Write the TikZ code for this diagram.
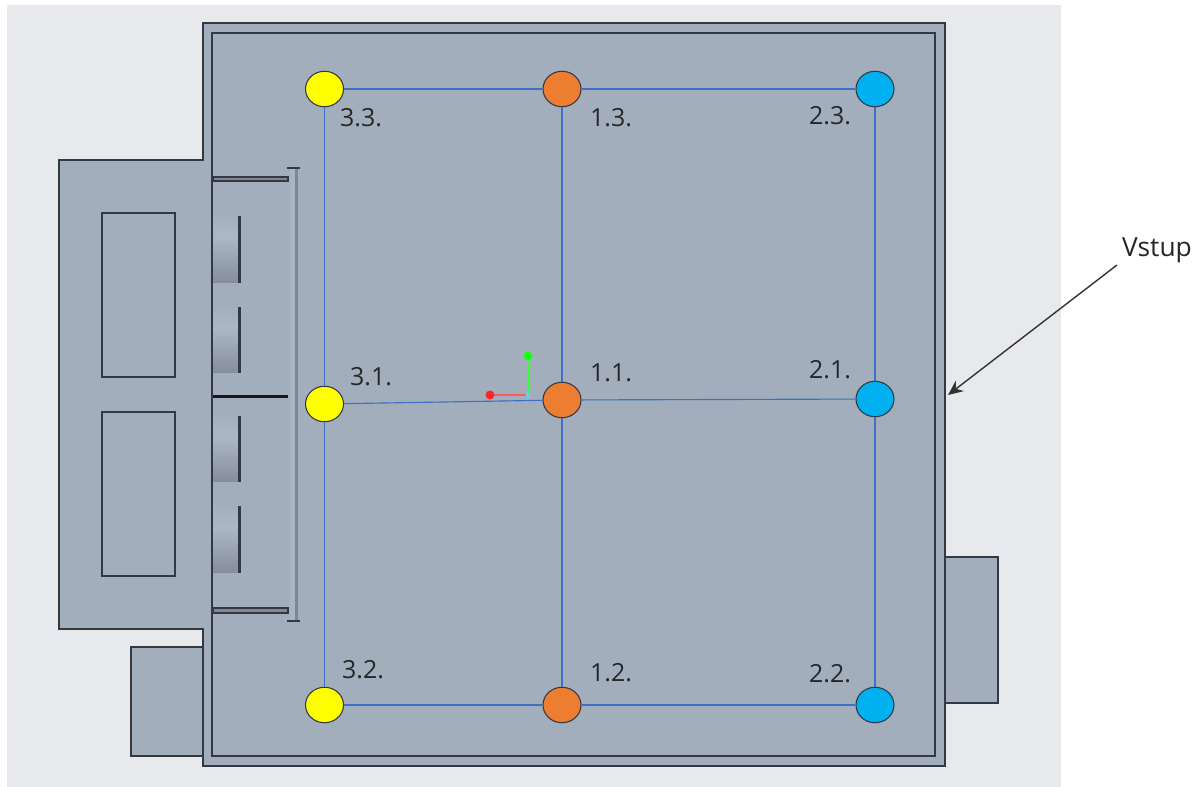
\documentclass[tikz,border=0pt]{standalone}
\usepackage{fontspec}
\setmainfont{Open Sans}
\usetikzlibrary{shapes.geometric,arrows.meta}
\definecolor{bgc}{HTML}{E8E9ED}
\definecolor{partc}{HTML}{A2AEBC}
\definecolor{edgec}{HTML}{333842}
\definecolor{linkc}{HTML}{3F70C8}
\definecolor{yel}{HTML}{FFFF00}
\definecolor{ora}{HTML}{ED7D31}
\definecolor{blu}{HTML}{00B0F0}
\definecolor{ribc}{HTML}{7E8894}
\definecolor{ribl}{HTML}{A9B5C3}
\definecolor{cyla}{HTML}{5C6570}
\definecolor{cylb}{HTML}{7F8996}
\definecolor{cylc}{HTML}{ADB8C6}
\definecolor{cyld}{HTML}{9CA7B4}
\pgfdeclareverticalshading{cyl}{100bp}{color(0bp)=(cyla); color(20bp)=(cylb); color(60bp)=(cylc); color(90bp)=(cyld); color(100bp)=(cyld)}
\tikzset{
 x=0.02cm,y=-0.02cm,
 part/.style={fill=partc,draw=edgec,line width=1pt,line join=miter},
 win/.style={draw=edgec,line width=0.9pt},
 pin/.style={ellipse,minimum width=0.76cm,minimum height=0.71cm,inner sep=0pt,draw=edgec,line width=0.6pt},
 ypin/.style={pin,fill=yel},
 opin/.style={pin,fill=ora},
 bpin/.style={pin,fill=blu},
 link/.style={draw=linkc,line width=0.65pt},
 lab/.style={font=\fontsize{14.2}{16}\selectfont,text=black!85,inner sep=0pt},
 biglab/.style={font=\fontsize{15}{17}\selectfont,text=black!85,inner sep=0pt},
}
\begin{document}
\begin{tikzpicture}
\useasboundingbox (0,0) rectangle (1200,787);
\fill[white] (0,0) rectangle (1200,787);
\fill[bgc] (7,5) rectangle (1061,787);
% side parts
\draw[part] (945,557) rectangle (998,703);
\draw[part] (203,647) -- (131,647) -- (131,756) -- (203,756);
% body
\draw[part] (203,23) -- (945,23) -- (945,766) -- (203,766) -- (203,629) -- (59,629) -- (59,160) -- (203,160) -- cycle;
\draw[draw=edgec,line width=1.1pt] (212,33) rectangle (935,756);
% windows
\draw[win] (102,213) rectangle (175,377);
\draw[win] (102,412) rectangle (175,576);
% cylinders
\foreach \ya/\yb in {217/282,308/372,417/481,507/572}{
  \shade[shading=cyl] (213,\ya) rectangle (239,\yb);
  \draw[edgec,line width=1.2pt] (239.5,\ya-1) -- (239.5,\yb+1);
}
% bars
\draw[edgec,line width=0.9pt,fill=ribc] (213,177) rectangle (288,181);
\draw[edgec,line width=0.9pt,fill=ribc] (213,608) rectangle (288,613);
\draw[black!90,line width=2pt] (213,396.5) -- (288,396.5);
% rib
\fill[ribl] (290,168) rectangle (295,621);
\fill[ribc] (295,168) rectangle (298,621);
\draw[edgec,line width=0.7pt] (287,168) -- (300,168);
\draw[edgec,line width=0.7pt] (287,621) -- (300,621);
% axes
\coordinate (ax) at (528,395);
\coordinate (axr) at (490,395);
\coordinate (axg) at (528,356);
% pins
\node[ypin] (y3) at (324.5,89) {};
\node[opin] (o3) at (562,89) {};
\node[bpin] (b3) at (875,89) {};
\node[ypin] (y1) at (324.5,404) {};
\node[opin] (o1) at (562,400) {};
\node[bpin] (b1) at (875,399) {};
\node[ypin] (y2) at (324.5,705) {};
\node[opin] (o2) at (562,705) {};
\node[bpin] (b2) at (875,705) {};
\draw[link] (y3) -- (o3);
\draw[link] (o3) -- (b3);
\draw[link] (y1) -- (o1);
\draw[link] (o1) -- (b1);
\draw[link] (y2) -- (o2);
\draw[link] (o2) -- (b2);
\draw[link] (y3) -- (y1);
\draw[link] (y1) -- (y2);
\draw[link] (o3) -- (o1);
\draw[link] (o1) -- (o2);
\draw[link] (b3) -- (b1);
\draw[link] (b1) -- (b2);
\draw[red!65!white,line width=0.9pt] (ax) -- (axr);
\draw[green!80!white,line width=0.9pt] (ax) -- (axg);
\fill[red!85!white] (axr) circle (4.5);
\fill[green!90!white] (axg) circle (4.5);
\fill[cyan!60!white] (ax) circle (2.5);
% labels
\node[lab] at (361,118) {3.3.};
\node[lab] at (611,118) {1.3.};
\node[lab] at (830,116) {2.3.};
\node[lab] at (371,377) {3.1.};
\node[lab] at (611,373) {1.1.};
\node[lab] at (830,370) {2.1.};
\node[lab] at (363,670) {3.2.};
\node[lab] at (611,673) {1.2.};
\node[lab] at (830,674) {2.2.};
% callout
\node[biglab] (vs) at (1157,250) {Vstup};
\coordinate (tip) at (948,395);
\coordinate (tail) at (1117,265);
\draw[black!80,line width=0.8pt,-{Stealth[length=8.5pt,width=7.5pt]}] (tail) -- (tip);
\end{tikzpicture}
\end{document}
